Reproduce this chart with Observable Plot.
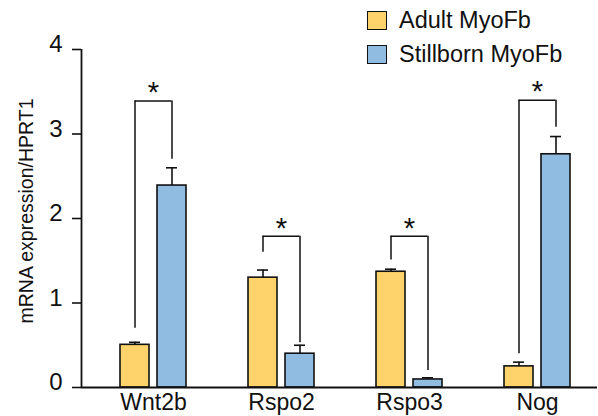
<!DOCTYPE html>
<html>
<head>
<meta charset="utf-8">
<script src="https://cdn.jsdelivr.net/npm/d3@7"></script>
<script src="https://cdn.jsdelivr.net/npm/@observablehq/plot@0.6"></script>
<style>
  html, body { margin: 0; padding: 0; background: #fff; }
  #wrap { position: relative; width: 598px; height: 416px; font-family: "Liberation Sans", Arial, sans-serif; }
  #legend { position: absolute; left: 367px; top: 3px; font-size: 23.5px; color: #111; }
  #legend .item { display: flex; align-items: center; height: 34px; }
  #legend .sw { width: 18px; height: 17px; border: 1.5px solid #111; margin-right: 12px; }
</style>
</head>
<body>
<div id="wrap"><div id="legend"></div></div>
<script>
// ---- data ----
const genes = ["Wnt2b", "Rspo2", "Rspo3", "Nog"];
const seriesNames = ["Adult MyoFb", "Stillborn MyoFb"];
const seriesColors = ["#FED36C", "#8FBCE0"];
const adultMean = [0.505, 1.30, 1.37, 0.25];
const adultErr = [0.03, 0.09, 0.03, 0.05];
const stillMean = [2.39, 0.40, 0.095, 2.76];
const stillErr = [0.21, 0.10, 0.02, 0.21];
const bracketTop = [3.39, 1.79, 1.79, 3.40];
const bracketLeftBottom = [0.70, 1.60, 1.51, 0.40];
const bracketRightBottom = [2.70, 0.53, 0.20, 3.08];
const yTicks = [0, 1, 2, 3, 4];
const yLabel = "mRNA expression/HPRT1";

const rows = genes.map((g, i) => ({
  gene: g,
  a: adultMean[i], aCap: adultMean[i] + adultErr[i],
  s: stillMean[i], sCap: stillMean[i] + stillErr[i],
  top: bracketTop[i], lb: bracketLeftBottom[i], rb: bracketRightBottom[i]
}));

const ink = "#111";
const plot = Plot.plot({
  width: 598,
  height: 416,
  marginLeft: 81,
  marginRight: 1,
  marginTop: 49,
  marginBottom: 29,
  style: { fontFamily: "Liberation Sans, Arial, sans-serif", color: ink, background: "white" },
  x: { type: "band", domain: genes, range: [89, 601], padding: 0 },
  y: { domain: [0, 4] },
  marks: [
    Plot.barY(rows, { x: "gene", y: "a", fill: seriesColors[0], stroke: ink, strokeWidth: 1.6, insetLeft: 31, insetRight: 68 }),
    Plot.barY(rows, { x: "gene", y: "s", fill: seriesColors[1], stroke: ink, strokeWidth: 1.6, insetLeft: 68, insetRight: 31 }),
    // error bars
    Plot.ruleX(rows, { x: "gene", y1: "a", y2: "aCap", dx: -18.5, stroke: ink, strokeWidth: 1.6 }),
    Plot.ruleX(rows, { x: "gene", y1: "s", y2: "sCap", dx: 18.5, stroke: ink, strokeWidth: 1.6 }),
    Plot.tickY(rows, { x: "gene", y: "aCap", insetLeft: 40, insetRight: 77, stroke: ink, strokeWidth: 1.6 }),
    Plot.tickY(rows, { x: "gene", y: "sCap", insetLeft: 77, insetRight: 40, stroke: ink, strokeWidth: 1.6 }),
    // significance brackets
    Plot.ruleX(rows, { x: "gene", y1: "lb", y2: "top", dx: -18.5, stroke: ink, strokeWidth: 1.5 }),
    Plot.ruleX(rows, { x: "gene", y1: "rb", y2: "top", dx: 18.5, stroke: ink, strokeWidth: 1.5 }),
    Plot.tickY(rows, { x: "gene", y: "top", insetLeft: 45.5, insetRight: 45.5, stroke: ink, strokeWidth: 1.5 }),
    Plot.text(rows, { x: "gene", y: "top", text: () => "*", fontSize: 29, dy: -8, fill: ink }),
    // axes
    Plot.ruleY([0], { stroke: ink, strokeWidth: 1.8 }),
    Plot.ruleX([genes[0]], { x: d => d, y1: yTicks[0], y2: yTicks[yTicks.length - 1], dx: -72, stroke: ink, strokeWidth: 1.8 }),
    Plot.axisY({ ticks: yTicks, tickFormat: () => "", tickSize: 9, label: null, stroke: ink, strokeWidth: 1.6 }),
    Plot.text(yTicks, { y: d => d, text: d => String(d), frameAnchor: "left", textAnchor: "end", dx: -19, dy: -5, fontSize: 24, fill: ink }),
    Plot.axisX({ tickSize: 0, tickPadding: 6, fontSize: 23, label: null }),
    Plot.text([yLabel], { frameAnchor: "left", textAnchor: "middle", rotate: -90, dx: -55, dy: -7.5, fontSize: 19.5, fill: ink })
  ]
});
document.getElementById("wrap").prepend(plot);

const legend = document.getElementById("legend");
seriesNames.forEach((n, i) => {
  const item = document.createElement("div");
  item.className = "item";
  const sw = document.createElement("span");
  sw.className = "sw";
  sw.style.background = seriesColors[i];
  const t = document.createElement("span");
  t.textContent = n;
  item.append(sw, t);
  legend.append(item);
});
</script>
</body>
</html>
